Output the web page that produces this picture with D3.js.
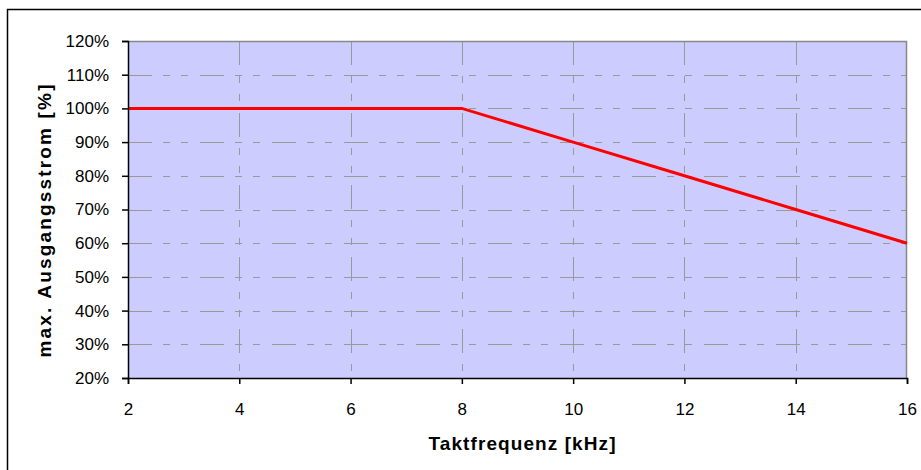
<!DOCTYPE html>
<html>
<head>
<meta charset="utf-8">
<script src="https://cdn.jsdelivr.net/npm/d3@7"></script>
<style>
  body { margin: 0; background: #fff; }
  svg { display: block; font-family: "Liberation Sans", Arial, sans-serif; }
</style>
</head>
<body>
<script>
// data
const freqs = [2, 4, 6, 8, 10, 12, 14, 16];
const current = [100, 100, 100, 100, 90, 80, 70, 60];
const xTicks = [2, 4, 6, 8, 10, 12, 14, 16];
const yTicks = [20, 30, 40, 50, 60, 70, 80, 90, 100, 110, 120];

const W = 921, H = 470;
const margin = { left: 128, top: 41, right: 14, bottom: 92 };
const pw = W - margin.left - margin.right;
const ph = H - margin.top - margin.bottom;

const svg = d3.select("body").append("svg")
    .attr("width", W)
    .attr("height", H);

// outer frame (runs off the right/bottom edges like the original)
svg.append("rect")
    .attr("x", 7.5).attr("y", 9.5)
    .attr("width", W).attr("height", H)
    .attr("fill", "none")
    .attr("stroke", "#000")
    .attr("stroke-width", 1.5);

const x = d3.scaleLinear().domain([2, 16]).range([0, pw]);
const y = d3.scaleLinear().domain([20, 120]).range([ph, 0]);

const g = svg.append("g")
    .attr("transform", "translate(" + margin.left + "," + margin.top + ")");

// plot background
g.append("rect")
    .attr("width", pw).attr("height", ph)
    .attr("fill", "#ccccff");

// grid lines, excel dash-dot-dot style
const dash = "24,11,7,11,7,12";
g.selectAll(".hgrid")
    .data(yTicks.filter(function(d) { return d > 20 && d < 120; }))
    .enter().append("line")
    .attr("x1", 0).attr("x2", pw)
    .attr("y1", function(d) { return Math.round(y(d)) + 0.5; })
    .attr("y2", function(d) { return Math.round(y(d)) + 0.5; })
    .attr("stroke", "#999")
    .attr("stroke-dasharray", dash);

g.selectAll(".vgrid")
    .data(xTicks.filter(function(d) { return d > 2 && d < 16; }))
    .enter().append("line")
    .attr("y1", 0).attr("y2", ph)
    .attr("x1", function(d) { return Math.round(x(d)) + 0.5; })
    .attr("x2", function(d) { return Math.round(x(d)) + 0.5; })
    .attr("stroke", "#999")
    .attr("stroke-dasharray", dash);

// top and right border in grey
g.append("path")
    .attr("d", "M0,0.5H" + (pw - 0.5) + "V" + ph)
    .attr("fill", "none")
    .attr("stroke", "#888")
    .attr("stroke-width", 1.5);

// the curve
const line = d3.line()
    .x(function(d, i) { return x(freqs[i]); })
    .y(function(d) { return y(d); });

g.append("path")
    .datum(current)
    .attr("d", line)
    .attr("fill", "none")
    .attr("stroke", "#ff0000")
    .attr("stroke-width", 3);

// axes
const xAxis = g.append("g")
    .attr("transform", "translate(0," + ph + ")")
    .call(d3.axisBottom(x).tickValues(xTicks).tickSize(6).tickPadding(19)
        .tickFormat(d3.format("d")));

const yAxis = g.append("g")
    .call(d3.axisLeft(y).tickValues(yTicks).tickSize(6).tickPadding(13)
        .tickFormat(function(d) { return d + "%"; }));

[xAxis, yAxis].forEach(function(a) {
    a.select(".domain").attr("stroke", "#000").attr("stroke-width", 1.5);
    a.selectAll(".tick line").attr("stroke", "#000").attr("stroke-width", 1.5);
    a.selectAll("text")
        .attr("fill", "#000")
        .style("font-size", "17px")
        .style("font-family", "'Liberation Sans', Arial, sans-serif");
});

// axis titles (excel spreads the letters a bit, so stretch spacing)
svg.append("text")
    .attr("x", 522)
    .attr("y", 450)
    .attr("text-anchor", "middle")
    .attr("textLength", 187)
    .attr("lengthAdjust", "spacing")
    .style("font-size", "19px")
    .style("font-weight", "bold")
    .text("Taktfrequenz [kHz]");

svg.append("text")
    .attr("transform", "translate(51,221) rotate(-90)")
    .attr("text-anchor", "middle")
    .attr("textLength", 273)
    .attr("lengthAdjust", "spacing")
    .style("font-size", "19px")
    .style("font-weight", "bold")
    .text("max. Ausgangsstrom [%]");
</script>
</body>
</html>
